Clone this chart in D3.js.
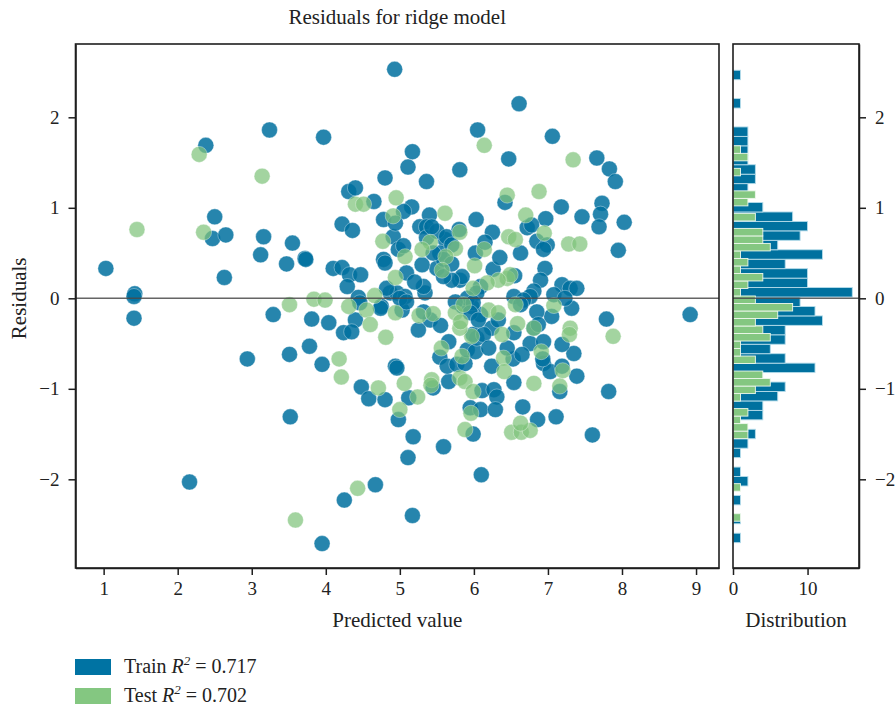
<!DOCTYPE html>
<html>
<head>
<meta charset="utf-8">
<script src="https://cdn.jsdelivr.net/npm/d3@7"></script>
<style>
  body { margin: 0; background: #fff; }
  svg text { font-family: "Liberation Serif", "DejaVu Serif", serif; fill: #222; }
</style>
</head>
<body>
<script>
// residuals: [predicted value, residual]
var trainPts = [
  [4.93,2.53],[3.24,1.86],[3.97,1.78],[2.38,1.69],[4.80,1.33],[4.31,1.18],[4.40,1.22],[4.65,1.07],
  [2.50,0.90],[4.22,0.82],[4.36,0.75],[4.78,0.87],[4.91,0.68],[4.98,0.54],[2.47,0.66],[2.65,0.70],
  [3.16,0.68],[3.12,0.48],[3.55,0.61],[3.47,0.38],[3.72,0.44],[3.73,0.43],[1.03,0.33],[2.63,0.23],
  [4.10,0.33],[4.22,0.34],[4.32,0.26],[4.47,0.26],[4.29,0.13],[4.78,0.43],[4.80,0.39],[4.44,0.01],
  [4.87,0.06],[4.96,0.06],[1.42,0.05],[1.41,0.02],[4.75,-0.09],[1.41,-0.22],[3.29,-0.18],[3.81,-0.23],
  [4.04,-0.27],[4.46,-0.05],[4.40,-0.24],[4.24,-0.38],[4.35,-0.37],[4.74,-0.11],[2.94,-0.67],[3.51,-0.62],
  [3.78,-0.53],[3.95,-0.73],[4.94,-0.75],[4.96,-0.77],[4.48,-0.98],[4.58,-1.11],[4.80,-1.12],[4.98,-1.34],
  [3.52,-1.31],[2.16,-2.03],[4.67,-2.06],[4.25,-2.23],[3.95,-2.71],[8.92,-0.18],[7.79,-0.23],[7.82,-1.03],
  [7.60,-1.51],[7.11,-1.31],[6.86,-1.34],[6.66,-1.20],[6.10,-1.95],[5.17,-2.40],[5.11,-1.76],[5.18,-1.53],
  [5.59,-1.64],[5.12,-1.10],[5.41,-0.24],[5.32,-0.15],[5.45,-0.99],[5.66,-0.92],[5.54,-0.65],[5.64,-0.75],
  [5.66,-0.48],[5.77,-0.73],[5.88,-0.72],[5.91,-0.57],[6.02,-0.59],[5.95,-1.21],[6.09,-1.23],[5.99,-1.50],
  [6.11,-1.02],[6.27,-1.01],[6.31,-1.09],[6.29,-1.23],[6.24,-0.75],[6.53,-0.67],[6.54,-0.93],[6.94,-0.72],
  [7.03,-0.81],[7.19,-0.75],[7.39,-0.86],[7.16,-1.03],[7.35,-0.61],[7.19,-0.51],[7.32,-0.11],[7.05,-0.20],
  [6.93,-0.67],[6.76,-0.50],[6.94,-0.48],[6.81,-0.33],[6.54,-0.38],[6.24,-0.33],[6.33,-0.24],[6.09,-0.18],
  [5.97,-0.09],[6.04,-0.44],[5.85,-0.09],[5.03,-0.13],[6.61,2.15],[6.05,1.86],[7.06,1.79],[6.47,1.54],
  [7.66,1.55],[7.83,1.43],[7.91,1.29],[5.17,1.62],[5.11,1.45],[5.81,1.42],[5.36,1.29],[6.42,1.06],
  [7.18,1.01],[7.73,1.05],[7.71,0.93],[7.69,0.79],[8.03,0.84],[7.95,0.53],[7.46,0.90],[6.97,0.88],
  [6.72,0.78],[6.78,0.81],[6.85,0.63],[6.99,0.59],[6.94,0.54],[6.63,0.50],[6.96,0.33],[6.90,0.20],
  [7.19,0.15],[7.30,0.11],[7.39,0.11],[6.81,0.08],[6.76,0.02],[7.08,0.04],[6.54,0.02],[6.67,-0.02],
  [6.25,0.73],[6.03,0.87],[6.02,0.50],[6.26,0.32],[6.09,0.13],[6.04,0.06],[5.91,0.00],[5.99,-0.05],
  [5.81,0.20],[5.84,0.24],[5.70,0.20],[5.80,0.76],[5.61,0.65],[5.54,0.50],[5.50,0.33],[5.59,0.24],
  [5.40,0.92],[5.27,0.79],[5.36,0.79],[5.36,0.67],[5.50,0.74],[5.30,0.37],[5.34,0.06],[5.16,1.01],
  [5.05,0.58],[5.09,0.28],[5.07,0.02],[5.05,0.96],[4.94,0.83],[5.43,0.79],[5.63,0.68],[5.70,0.59],
  [5.59,0.43],[5.32,0.13],[4.82,0.11],[5.00,0.00],[5.09,-0.04],[5.75,-0.04],[5.95,-0.16],[7.23,0.00],
  [6.63,-0.07],[6.85,-0.15],[5.99,-0.40],[6.13,-0.40],[6.06,-0.24],[6.87,-0.29],[5.20,0.18],[5.45,0.50],
  [5.70,0.38],[6.15,0.62],[6.35,0.45],[6.55,0.25],[6.20,-0.55],[6.45,-0.55],[6.65,-0.62],[5.25,-0.35],
  [5.55,-0.30]
];
var testPts = [
  [2.29,1.59],[3.14,1.35],[4.40,1.04],[4.51,1.04],[4.95,1.11],[4.91,0.91],[4.77,0.63],[1.45,0.76],
  [2.35,0.73],[4.66,0.03],[4.94,0.23],[3.51,-0.07],[3.84,-0.01],[3.99,-0.02],[4.31,-0.09],[4.55,-0.13],
  [4.60,-0.29],[4.94,-0.16],[4.81,-0.43],[4.18,-0.67],[4.21,-0.87],[4.71,-0.99],[5.00,-1.23],[4.43,-2.10],
  [3.59,-2.45],[7.88,-0.42],[6.51,-1.48],[6.64,-1.48],[6.76,-1.46],[6.63,-1.38],[5.06,-0.94],[5.24,-1.09],
  [5.26,-0.19],[5.45,-0.17],[5.43,-0.90],[5.42,-0.96],[5.56,-0.55],[5.81,-0.88],[5.88,-0.92],[5.84,-0.64],
  [5.97,-0.42],[5.96,-1.27],[5.88,-1.45],[5.99,-1.03],[6.40,-0.66],[6.41,-0.81],[6.81,-0.94],[7.20,-0.80],
  [7.16,-0.97],[7.30,-0.33],[7.29,-0.40],[7.08,-0.08],[6.91,-0.59],[6.59,-0.28],[6.81,-0.33],[6.38,-0.40],
  [6.20,-0.13],[6.33,-0.16],[5.81,-0.33],[5.75,-0.16],[6.14,1.69],[7.34,1.53],[6.45,1.14],[6.88,1.18],
  [6.70,0.92],[6.95,0.72],[7.28,0.60],[7.43,0.60],[6.56,-0.07],[6.47,0.68],[6.56,0.65],[6.14,0.54],
  [6.01,0.36],[6.45,0.22],[6.49,0.26],[6.33,0.20],[6.18,0.17],[5.99,0.11],[5.75,0.55],[5.81,0.73],
  [5.62,0.46],[5.57,0.31],[5.61,0.94],[5.41,0.62],[5.30,0.54],[5.07,0.46],[5.82,-0.26],[5.86,-0.07]
];

// histogram counts, 50 bins each, lowest bin first
var trainHist = [1,0,1,0,1,0,2,1,0,1,2,3,0,4,4,6,7,3,11,7,5,7,7,12,11,9,16,10,10,7,12,6,9,10,8,4,1,2,3,3,2,2,2,2,0,0,1,0,0,1];
var testHist  = [1,0,0,0,1,0,0,0,0,0,0,2,2,1,2,0,1,3,5,4,0,3,1,1,5,4,3,6,8,3,1,2,4,1,2,1,5,4,4,0,3,0,2,3,0,0,1,0,2,1];
var trainRange = [-2.70, 2.52];
var testRange = [-2.463, 1.685];

var xTicks = [1, 2, 3, 4, 5, 6, 7, 8, 9];
var yTicks = [-2, -1, 0, 1, 2];
var histTicks = [0, 10];
var legendItems = [['Train', '0.717'], ['Test', '0.702']];

var trainColor = '#00709f', testColor = '#80c47c';

var W = 896, H = 707;
var main = {left: 75.5, right: 719, top: 44, bottom: 568};
var hist = {left: 733, right: 859};

var svg = d3.select('body').append('svg')
  .attr('width', W).attr('height', H);

var x = d3.scaleLinear().domain([0.62, 9.31]).range([main.left, main.right]);
var y = d3.scaleLinear().domain([-2.98, 2.81]).range([main.bottom, main.top]);
var hx = d3.scaleLinear().domain([0, 16.9]).range([hist.left, hist.right]);

// title
svg.append('text')
  .attr('x', (main.left + main.right) / 2).attr('y', 24)
  .attr('text-anchor', 'middle').style('font-size', '21px')
  .text('Residuals for ridge model');

// scatter
var dots = svg.append('g');
dots.selectAll('.train').data(trainPts).enter().append('circle')
  .attr('class', 'train')
  .attr('cx', function(d) { return x(d[0]); })
  .attr('cy', function(d) { return y(d[1]); })
  .attr('r', 8)
  .attr('fill', trainColor).attr('fill-opacity', 0.85)
  .attr('stroke', '#ffffff').attr('stroke-opacity', 0.35).attr('stroke-width', 1);
dots.selectAll('.test').data(testPts).enter().append('circle')
  .attr('class', 'test')
  .attr('cx', function(d) { return x(d[0]); })
  .attr('cy', function(d) { return y(d[1]); })
  .attr('r', 8)
  .attr('fill', testColor).attr('fill-opacity', 0.72)
  .attr('stroke', '#ffffff').attr('stroke-opacity', 0.35).attr('stroke-width', 1);

// zero line
svg.append('line')
  .attr('x1', main.left).attr('x2', main.right)
  .attr('y1', y(0)).attr('y2', y(0))
  .attr('stroke', '#4a4a4a').attr('stroke-opacity', 0.85).attr('stroke-width', 1.6);

// histogram bars
function drawHist(counts, range, color, edge) {
  var step = (range[1] - range[0]) / counts.length;
  var rows = counts.map(function(c, i) { return {c: c, lo: range[0] + i * step, hi: range[0] + (i + 1) * step}; })
    .filter(function(r) { return r.c > 0; });
  svg.append('g').selectAll('rect').data(rows).enter().append('rect')
    .attr('x', hx(0))
    .attr('y', function(r) { return y(r.hi); })
    .attr('width', function(r) { return hx(r.c) - hx(0); })
    .attr('height', function(r) { return y(r.lo) - y(r.hi); })
    .attr('fill', color)
    .attr('stroke', edge).attr('stroke-width', 0.9);
}
drawHist(trainHist, trainRange, '#00719f', '#b5dcea');
drawHist(testHist, testRange, '#84c781', '#eef8ec');

svg.append('line')
  .attr('x1', hist.left).attr('x2', hist.right)
  .attr('y1', y(0)).attr('y2', y(0))
  .attr('stroke', '#4a4a4a').attr('stroke-opacity', 0.85).attr('stroke-width', 1.6);

// axes
function styleAxis(g) {
  g.selectAll('path, line').attr('stroke', '#1e1e1e').attr('stroke-width', 1.5);
  g.selectAll('text').style('font-size', '19px').attr('fill', '#222');
}
var fmt = d3.format('d');

svg.append('g')
  .attr('transform', 'translate(0,' + main.bottom + ')')
  .call(d3.axisBottom(x).tickValues(xTicks).tickFormat(fmt).tickSize(7).tickSizeOuter(0).tickPadding(7))
  .call(styleAxis);
svg.append('g')
  .attr('transform', 'translate(' + main.left + ',0)')
  .call(d3.axisLeft(y).tickValues(yTicks).tickFormat(fmt).tickSize(7).tickSizeOuter(0).tickPadding(9))
  .call(styleAxis);
svg.append('g')
  .attr('transform', 'translate(0,' + main.bottom + ')')
  .call(d3.axisBottom(hx).tickValues(histTicks).tickFormat(fmt).tickSize(7).tickSizeOuter(0).tickPadding(7))
  .call(styleAxis);
svg.append('g')
  .attr('transform', 'translate(' + hist.right + ',0)')
  .call(d3.axisRight(y).tickValues(yTicks).tickFormat(fmt).tickSize(7).tickSizeOuter(0).tickPadding(9))
  .call(styleAxis);

// frames
svg.append('rect')
  .attr('x', main.left).attr('y', main.top)
  .attr('width', main.right - main.left).attr('height', main.bottom - main.top)
  .attr('fill', 'none').attr('stroke', '#1e1e1e').attr('stroke-width', 1.6);
svg.append('rect')
  .attr('x', hist.left).attr('y', main.top)
  .attr('width', hist.right - hist.left).attr('height', main.bottom - main.top)
  .attr('fill', 'none').attr('stroke', '#1e1e1e').attr('stroke-width', 1.6);

// axis labels
svg.append('text')
  .attr('x', (main.left + main.right) / 2).attr('y', 627)
  .attr('text-anchor', 'middle').style('font-size', '21px')
  .text('Predicted value');
svg.append('text')
  .attr('x', (hist.left + hist.right) / 2).attr('y', 627)
  .attr('text-anchor', 'middle').style('font-size', '21px')
  .text('Distribution');
svg.append('text')
  .attr('transform', 'translate(26,' + y(0) + ') rotate(-90)')
  .attr('text-anchor', 'middle').style('font-size', '21px')
  .text('Residuals');

// legend
var leg = svg.append('g');
legendItems.forEach(function(item, i) {
  var top = 659 + i * 29;
  leg.append('rect')
    .attr('x', 75).attr('y', top).attr('width', 36).attr('height', 16)
    .attr('fill', i === 0 ? '#0073a3' : '#84c781');
  var t = leg.append('text')
    .attr('x', 124).attr('y', top + 14).style('font-size', '20px');
  t.append('tspan').text(item[0] + ' ');
  t.append('tspan').style('font-style', 'italic').text('R');
  t.append('tspan').attr('dy', -8).style('font-size', '13px').style('font-style', 'italic').text('2');
  t.append('tspan').attr('dy', 8).text(' = ' + item[1]);
});
</script>
</body>
</html>
